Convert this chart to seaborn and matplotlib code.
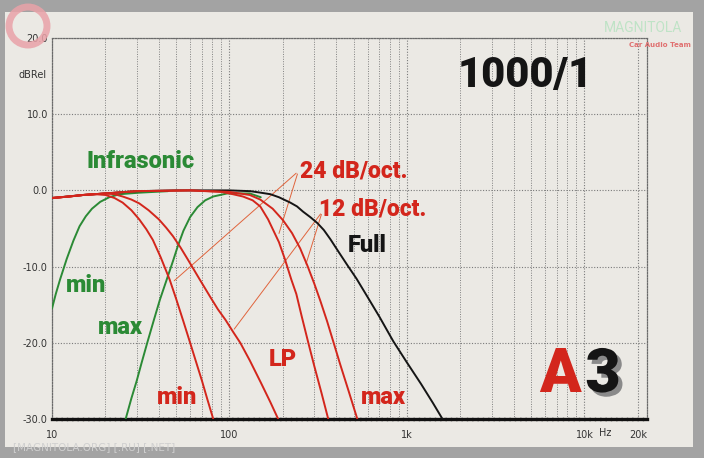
import matplotlib
matplotlib.use("Agg")
import matplotlib.pyplot as plt
import matplotlib.ticker as mticker
import matplotlib.patheffects as pe
from matplotlib.patches import Rectangle, Circle
import seaborn as sns

# ---------------- data ----------------
full_f  = [10, 15, 20, 30, 50, 100, 131, 150, 170, 190, 220, 240, 260, 285, 313, 340, 370,
           410, 461, 520, 600, 700, 837, 1000, 1200, 1400, 1585]
full_db = [-1.0, -0.6, -0.4, -0.1, 0.0, 0.0, -0.1, -0.3, -0.5, -0.9, -1.6, -2.1, -2.8, -3.5,
           -4.3, -5.2, -6.4, -8.0, -9.8, -11.6, -14.0, -16.6, -19.8, -22.6, -25.4, -27.9, -30.0]

lp24min_f  = [10, 12.5, 15, 17.5, 20, 22.5, 25, 28, 31, 34, 37, 41, 46, 50, 55, 60, 65, 70, 75, 81]
lp24min_db = [-1.0, -0.8, -0.6, -0.5, -0.6, -1.0, -1.6, -2.6, -3.8, -5.1, -6.5, -8.8, -11.7,
              -14.2, -17.2, -20.0, -22.6, -25.0, -27.4, -30.0]

lp12min_f  = [10, 12.5, 15, 20, 22.5, 25, 28, 31, 35, 40, 44, 48, 53, 58, 63, 68, 78, 86, 95,
              105, 115, 130, 150, 170, 188]
lp12min_db = [-1.0, -0.8, -0.6, -0.4, -0.5, -0.8, -1.2, -1.7, -2.6, -3.8, -4.9, -6.0, -7.5,
              -9.0, -10.4, -11.7, -14.0, -15.6, -17.0, -18.6, -20.0, -22.3, -25.2, -27.8, -30.0]

lp24max_f  = [10, 12.5, 15, 20, 30, 60, 90, 100, 119, 135, 149, 165, 190, 205, 223, 238, 255,
              278, 300, 330, 360]
lp24max_db = [-1.0, -0.8, -0.6, -0.4, -0.1, 0.0, -0.2, -0.4, -0.8, -1.3, -2.1, -3.8, -6.8, -9.0,
              -11.7, -13.6, -16.5, -20.0, -23.0, -26.6, -30.0]

lp12max_f  = [10, 12.5, 15, 20, 30, 60, 100, 130, 149, 175, 200, 225, 250, 275, 300, 325, 355,
              385, 420, 470, 525]
lp12max_db = [-1.0, -0.8, -0.6, -0.4, -0.1, 0.0, -0.2, -0.6, -1.2, -2.4, -3.9, -5.6, -7.6, -9.9,
              -12.2, -14.5, -17.2, -19.9, -22.8, -26.4, -30.0]

inf_min_f  = [10, 10.5, 11.1, 12.1, 13.2, 14.3, 15.5, 16.8, 18.7, 21, 24, 31, 45]
inf_min_db = [-15.5, -13.6, -11.7, -9.0, -6.6, -4.7, -3.4, -2.4, -1.5, -0.9, -0.5, -0.3, -0.1]

inf_max_f  = [26, 28, 30, 32, 34.4, 37.5, 40.6, 44, 48, 51, 55, 60, 66, 73, 81, 97, 130, 150]
inf_max_db = [-30.0, -27.3, -25.0, -22.6, -20.0, -17.0, -14.3, -11.9, -9.3, -7.4, -5.3, -3.5,
              -2.2, -1.3, -0.8, -0.4, -0.4, -0.9]

y_ticks = [-30, -20, -10, 0, 10, 20]
y_tick_labels = ["-30.0", "-20.0", "-10.0", "0.0", "10.0", "20.0"]
x_ticks = [10, 100, 1000, 10000, 20000]
x_tick_labels = ["10", "100", "1k", "10k", "20k"]

# ---------------- style ----------------
sns.set_style("white")
plt.rcParams["font.family"] = ["DejaVu Sans"]
W, H = 704, 458
fig = plt.figure(figsize=(W / 100, H / 100), dpi=100)
fig.patch.set_facecolor("#a3a3a3")
fig.patches.append(Rectangle((5 / W, 1 - 447 / H), (693 - 5) / W, (447 - 12) / H,
                             transform=fig.transFigure, facecolor="#ebe9e4",
                             edgecolor="none", zorder=-5))

ax = fig.add_axes([52 / W, 1 - 419 / H, (647 - 52) / W, (419 - 38) / H])
ax.set_zorder(2)
ax.set_facecolor("#ebe9e4")
ax.set_xscale("log")

RED = "#d3261c"
GREEN = "#2b8a35"
BLACK = "#151515"
lw = 1.4

sns.lineplot(x=inf_min_f, y=inf_min_db, ax=ax, color=GREEN, lw=lw, sort=False, estimator=None, zorder=3)
sns.lineplot(x=inf_max_f, y=inf_max_db, ax=ax, color=GREEN, lw=lw, sort=False, estimator=None, zorder=3)
sns.lineplot(x=full_f, y=full_db, ax=ax, color=BLACK, lw=lw, sort=False, estimator=None, zorder=3)
for f, d in [(lp12max_f, lp12max_db), (lp24max_f, lp24max_db),
             (lp12min_f, lp12min_db), (lp24min_f, lp24min_db)]:
    sns.lineplot(x=f, y=d, ax=ax, color=RED, lw=lw, sort=False, estimator=None, zorder=4)

ax.set_xlim(10, 22500)
ax.set_ylim(-30, 20)

# grid / ticks
ax.xaxis.set_major_locator(mticker.FixedLocator(x_ticks))
ax.xaxis.set_major_formatter(mticker.FixedFormatter(x_tick_labels))
ax.xaxis.set_minor_locator(mticker.LogLocator(base=10, subs=range(2, 10), numticks=20))
ax.xaxis.set_minor_formatter(mticker.NullFormatter())
ax.yaxis.set_major_locator(mticker.FixedLocator(y_ticks))
ax.yaxis.set_major_formatter(mticker.FixedFormatter(y_tick_labels))
ax.yaxis.set_minor_locator(mticker.MultipleLocator(2))
ax.grid(True, which="major", axis="both", color="#7a7a7a", ls=(0, (1, 1.5)), lw=0.8, zorder=1)
ax.grid(True, which="minor", axis="x", color="#808080", ls=(0, (1, 1.5)), lw=0.7, zorder=1)
ax.set_axisbelow(True)
ax.tick_params(axis="x", which="both", length=0, labelsize=7, colors="#333333", pad=8)
ax.tick_params(axis="y", which="major", length=3, direction="in", labelsize=7, colors="#333333", pad=3)
ax.tick_params(axis="y", which="minor", length=2, direction="in", colors="#555555")
for s in ["left", "top", "right"]:
    ax.spines[s].set_linestyle((0, (1, 1.2)))
    ax.spines[s].set_color("#6a6a6a")
    ax.spines[s].set_linewidth(0.9)
ax.spines["bottom"].set_linestyle((0, (1, 0.6)))
ax.spines["bottom"].set_color("#111111")
ax.spines["bottom"].set_linewidth(2.4)
ax.set_xlabel("")
ax.set_ylabel("")

# pointer lines
PTR = "#e0643c"
for (x0, y0), (x1, y1) in [((244, 2.5), (47.5, -12.1)), ((244, 2.5), (188, -6.0)),
                           ((333, -2.8), (104, -18.5)), ((333, -2.8), (267, -10.0))]:
    ax.annotate("", xy=(x1, y1), xytext=(x0, y0),
                arrowprops=dict(arrowstyle="-", color=PTR, lw=0.7), zorder=2)

# texts (pixel placed)
def ptext(x, y, s, **kw):
    return fig.text(x / W, 1 - y / H, s, ha="center", va="center", zorder=10, **kw)

COND = ["Liberation Sans Narrow", "DejaVu Sans Condensed", "Roboto", "DejaVu Sans"]
HW = "black"
ptext(141, 161, "Infrasonic", color=GREEN, fontsize=17, weight=HW, family=COND)
ptext(86, 286, "min", color=GREEN, fontsize=17, weight=HW, family=COND)
ptext(120, 328, "max", color=GREEN, fontsize=17, weight=HW, family=COND)
ptext(354, 171, "24 dB/oct.", color=RED, fontsize=16.5, weight=HW, family=COND)
ptext(373, 209, "12 dB/oct.", color=RED, fontsize=16.5, weight=HW, family=COND)
ptext(367, 246, "Full", color=BLACK, fontsize=17, weight=HW, family=COND)
ptext(283, 359, "LP", color=RED, fontsize=17, weight=HW, family=COND)
ptext(177, 398, "min", color=RED, fontsize=17, weight=HW, family=COND)
ptext(383, 398, "max", color=RED, fontsize=17, weight=HW, family=COND)
ptext(525, 76, "1000/1", color=BLACK, fontsize=30, weight=HW, family=COND)

# A3 logo
ptext(560, 375, "A", color=RED, fontsize=44, weight=HW, family=COND)
ptext(603, 375, "3", color=BLACK, fontsize=44, weight=HW, family=COND,
      path_effects=[pe.SimplePatchShadow(offset=(3, -3), shadow_rgbFace="#8a8a8a", alpha=1.0),
                    pe.Normal()])

ptext(33, 75, "dBRel", color="#333333", fontsize=7)
ptext(605, 433, "Hz", color="#333333", fontsize=7)

# watermarks
fig.patches.append(Circle((0.28, (H - 26) / 100), 0.19, transform=fig.dpi_scale_trans,
                          facecolor="none", edgecolor="#e9a2a8", lw=5, alpha=0.85, zorder=5))
ptext(643, 28, "MAGNITOLA", color="#bfe3c6", fontsize=10, family=COND)
ptext(660, 45, "Car Audio Team", color="#e07070", fontsize=5, weight="bold")
ptext(94, 447, "[MAGNITOLA.ORG] [.RU] [.NET]", color="#d0d0d0", fontsize=7.5)

fig.savefig("out.png", dpi=100, facecolor=fig.get_facecolor())
